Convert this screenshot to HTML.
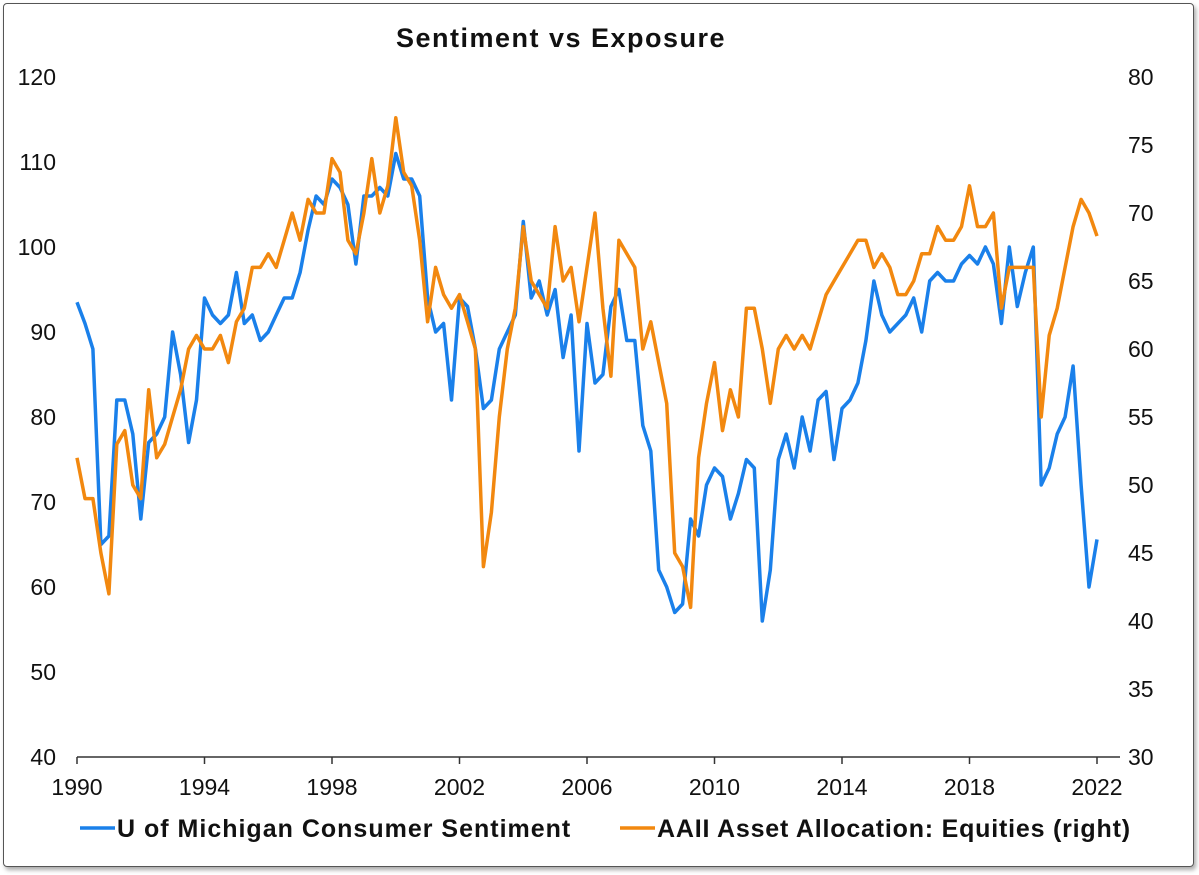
<!DOCTYPE html>
<html><head><meta charset="utf-8">
<style>
html,body{margin:0;padding:0;background:#fff;}
body{width:1199px;height:875px;overflow:hidden;position:relative;font-family:"Liberation Sans",sans-serif;}
#frame{position:absolute;left:3px;top:3px;width:1189px;height:862px;border:1px solid #555;border-radius:4px;box-shadow:2px 3px 4px #aaa;}
svg{position:absolute;left:0;top:0;}
</style></head>
<body>
<div id="frame"></div>
<svg id="chart" width="1199" height="875"></svg>
<script>
const startYear = 1990;
const stepYears = 0.25;
const michiganValues = [
93.5,91,88,65, 66,82,82,78, 68,77,78,80, 90,85,77,82, 94,92,91,92, 97,91,92,89,
90,92,94,94, 97,102,106,105, 108,107,105,98, 106,106,107,106, 111,108,108,106,
94,90,91,82, 94,93,88,81, 82,88,90,92, 103,94,96,92, 95,87,92,76, 91,84,85,93,
95,89,89,79, 76,62,60,57, 58,68,66,72, 74,73,68,71, 75,74,56,62, 75,78,74,80,
76,82,83,75, 81,82,84,89, 96,92,90,91, 92,94,90,96, 97,96,96,98, 99,98,100,98,
91,100,93,97, 100,72,74,78, 80,86,72,60, 65.6];
const aaiiValues = [
52,49,49,45, 42,53,54,50, 49,57,52,53, 55,57,60,61, 60,60,61,59, 62,63,66,66,
67,66,68,70, 68,71,70,70, 74,73,68,67, 70,74,70,72, 77,73,72,68, 62,66,64,63,
64,62,60,44, 48,55,60,63, 69,65,64,63, 69,65,66,62, 66,70,63,58, 68,67,66,60,
62,59,56,45, 44,41,52,56, 59,54,57,55, 63,63,60,56, 60,61,60,61, 60,62,64,65,
66,67,68,68, 66,67,66,64, 64,65,67,67, 69,68,68,69, 72,69,69,70, 63,66,66,66,
66,55,61,63, 66,69,71,70, 68.3];
const leftTicks = [40,50,60,70,80,90,100,110,120];
const rightTicks = [30,35,40,45,50,55,60,65,70,75,80];
const xTicks = [1990,1994,1998,2002,2006,2010,2014,2018,2022];

const X0=77, X1=1097, Y0=757, Y1=77;
const xScale = y => X0 + (y-1990)/(2022-1990)*(X1-X0);
const yLeft = v => Y0 - (v-40)/(120-40)*(Y0-Y1);
const yRight = v => Y0 - (v-30)/(80-30)*(Y0-Y1);
const NS="http://www.w3.org/2000/svg";
const svg=document.getElementById('chart');
function mk(tag,attrs,txt){const e=document.createElementNS(NS,tag);for(const k in attrs)e.setAttribute(k,attrs[k]);if(txt!==undefined)e.textContent=txt;svg.appendChild(e);return e;}
const font='"Liberation Sans",sans-serif';

let t=mk('text',{x:561,y:47,'text-anchor':'middle','font-family':font,'font-weight':'bold','font-size':27,'letter-spacing':1.5,fill:'#111'},'Sentiment vs Exposure');



leftTicks.forEach(v=>{
  const e=mk('text',{x:56,y:yLeft(v)+8,'text-anchor':'end','font-family':font,'font-size':23,fill:'#111'},v);
  
  
});
rightTicks.forEach(v=>{
  const e=mk('text',{x:1128,y:yRight(v)+8,'text-anchor':'start','font-family':font,'font-size':23,fill:'#111'},v);
  
  
});
let ax=mk('line',{x1:X0,y1:Y0,x2:1120,y2:Y0,stroke:'#333','stroke-width':1.5});


xTicks.forEach(v=>{
  const l=mk('line',{x1:xScale(v),y1:Y0,x2:xScale(v),y2:Y0+7,stroke:'#333','stroke-width':1.5});
  
  
  const e=mk('text',{x:xScale(v),y:795,'text-anchor':'middle','font-family':font,'font-size':23,fill:'#111'},v);
  
  
});

function path(vals,ys){return vals.map((v,i)=>(i?'L':'M')+xScale(startYear+i*stepYears).toFixed(1)+','+ys(v).toFixed(1)).join(' ');}
let pb=mk('path',{d:path(michiganValues,yLeft),fill:'none',stroke:'#1a80ea','stroke-width':3.5,'stroke-linejoin':'round'});


let po=mk('path',{d:path(aaiiValues,yRight),fill:'none',stroke:'#f2880f','stroke-width':3.5,'stroke-linejoin':'round'});



let l1=mk('line',{x1:80,y1:828,x2:115,y2:828,stroke:'#1a80ea','stroke-width':3.5});


let t1=mk('text',{x:117,y:837,'font-family':font,'font-weight':'bold','font-size':25,'letter-spacing':1.0,fill:'#111'},'U of Michigan Consumer Sentiment');


let l2=mk('line',{x1:620,y1:828,x2:655,y2:828,stroke:'#f2880f','stroke-width':3.5});


let t2=mk('text',{x:657,y:837,'font-family':font,'font-weight':'bold','font-size':25,'letter-spacing':0.8,fill:'#111'},'AAII Asset Allocation: Equities (right)');


</script>
</body></html>
